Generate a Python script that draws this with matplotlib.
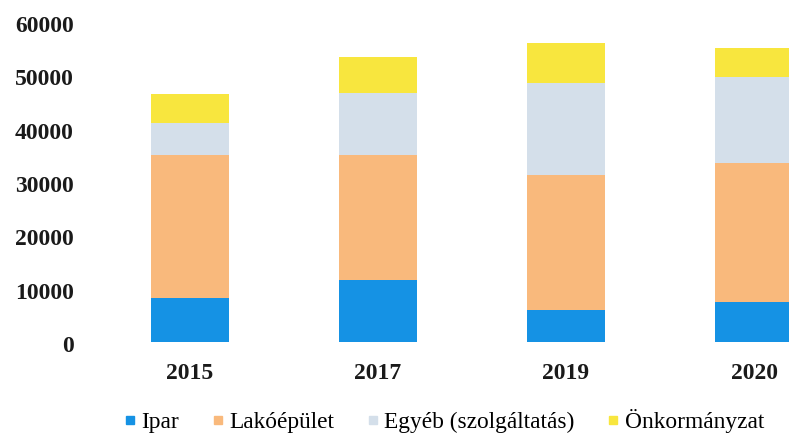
import matplotlib
matplotlib.use("Agg")
import matplotlib.pyplot as plt
from matplotlib.lines import Line2D
import matplotlib.transforms as mtransforms
import numpy as np

years = ["2015", "2017", "2019", "2020"]
series_names = ["Ipar", "Lakóépület", "Egyéb (szolgáltatás)", "Önkormányzat"]
ipar = [8250, 11600, 6000, 7500]
lakoepulet = [26800, 23500, 25300, 26100]
egyeb = [6000, 11600, 17300, 16100]
onkormanyzat = [5450, 6750, 7500, 5450]
colors = ["#1592E4", "#F9B97C", "#D4DFEA", "#F8E63E"]
yticks = [0, 10000, 20000, 30000, 40000, 50000, 60000]

plt.rcParams['font.family'] = ['Liberation Serif', 'DejaVu Serif']

fig = plt.figure(figsize=(7.89, 4.33), dpi=100)
ax = fig.add_axes([96/789, 91/433, 752/789, 320/433])

x = np.arange(len(years))
bottom = np.zeros(len(years))
for vals, col, name in zip([ipar, lakoepulet, egyeb, onkormanyzat], colors, series_names):
    ax.bar(x, vals, width=0.41, bottom=bottom, color=col, label=name, linewidth=0)
    bottom += np.array(vals)

ax.set_xlim(-0.5, 3.5)
ax.set_ylim(0, 60000)
ax.set_yticks(yticks)
ax.set_yticklabels([str(t) for t in yticks], fontsize=17, fontweight='bold', color='#1a1a1a')
ax.set_xticks(x)
ax.set_xticklabels(years, fontsize=17, fontweight='bold', color='#1a1a1a')
ax.tick_params(axis='y', length=0, pad=16)
ax.tick_params(axis='x', length=0, pad=15)
offset = mtransforms.ScaledTranslation(0, -1.5/72, fig.dpi_scale_trans)
for lbl in ax.get_yticklabels():
    lbl.set_transform(lbl.get_transform() + offset)
for s in ax.spines.values():
    s.set_visible(False)

handles = [Line2D([0], [0], marker='s', linestyle='none', markersize=6,
                  markerfacecolor=c, markeredgecolor=c) for c in colors]
fig.legend(handles, series_names, loc='center', bbox_to_anchor=(444/789, 12/433),
           ncol=4, frameon=False, fontsize=16.8, handlelength=0.5, handletextpad=0.25,
           columnspacing=1.4, borderaxespad=0)

fig.savefig("out.png", dpi=100)
